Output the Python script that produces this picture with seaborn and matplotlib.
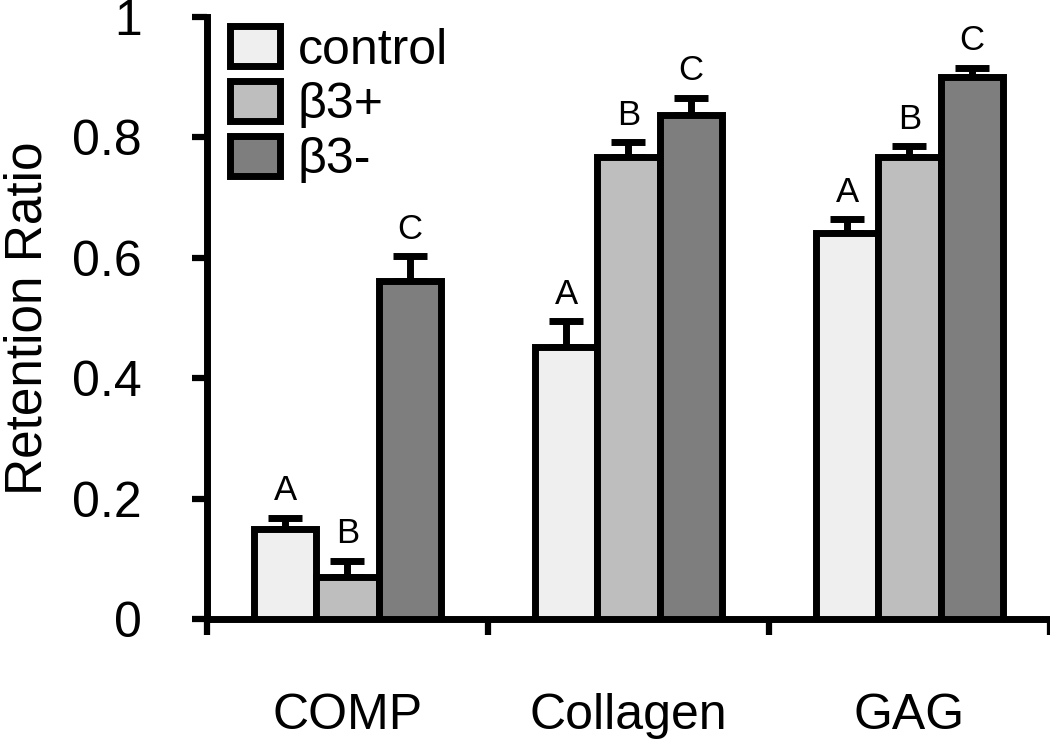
import numpy as np
import pandas as pd
import matplotlib
matplotlib.use("Agg")
import matplotlib.pyplot as plt
import seaborn as sns

# ---- data ----
components = ["COMP", "Collagen", "GAG"]
groups = ["control", "β3+", "β3-"]
control_vals = [0.150, 0.451, 0.642]
b3plus_vals = [0.069, 0.767, 0.768]
b3minus_vals = [0.562, 0.837, 0.900]
control_err = [0.018, 0.044, 0.022]
b3plus_err = [0.028, 0.025, 0.018]
b3minus_err = [0.041, 0.029, 0.016]
control_letters = ["A", "A", "A"]
b3plus_letters = ["B", "B", "B"]
b3minus_letters = ["C", "C", "C"]
ytick_vals = [0, 0.2, 0.4, 0.6, 0.8, 1]
ytick_labels = ["0", "0.2", "0.4", "0.6", "0.8", "1"]
colors = ["#efefef", "#bebebe", "#7e7e7e"]

vals = [control_vals, b3plus_vals, b3minus_vals]
errs = [control_err, b3plus_err, b3minus_err]
letters = [control_letters, b3plus_letters, b3minus_letters]

df = pd.DataFrame({
    "component": components * 3,
    "group": [g for g in groups for _ in components],
    "ratio": control_vals + b3plus_vals + b3minus_vals,
})

sns.set_style("white")
plt.rcParams["font.family"] = ["Liberation Sans", "DejaVu Sans"]
plt.rcParams["text.color"] = "black"
plt.rcParams["axes.labelcolor"] = "black"
plt.rcParams["xtick.color"] = "black"
plt.rcParams["ytick.color"] = "black"

fig = plt.figure(figsize=(10.5, 7.43), dpi=100)
ax = fig.add_axes([0.197, 0.167, 0.803, 0.810])

LW = 5
sns.barplot(data=df, x="component", y="ratio", hue="group",
            order=components, hue_order=groups,
            palette=dict(zip(groups, colors)), saturation=1,
            width=0.665, edgecolor="black", linewidth=LW,
            errorbar=None, ax=ax, zorder=3)

bar_containers = list(ax.containers)
for i, cont in enumerate(bar_containers):
    xs = [b.get_x() + b.get_width() / 2 for b in cont]
    ys = [b.get_height() for b in cont]
    e = errs[i]
    ax.errorbar(xs, ys, yerr=[np.zeros(len(e)), e], fmt="none",
                ecolor="black", elinewidth=5, capsize=12, capthick=5, zorder=2)
    for x, y, ee, lab in zip(xs, ys, e, letters[i]):
        ax.annotate(lab, (x, y + ee), xytext=(0, 12.5), textcoords="offset points",
                    ha="center", va="baseline", fontsize=25, color="black")

ax.set_xlim(-0.5, 2.5)
ax.set_ylim(0, 1)
ax.set_yticks(ytick_vals)
ax.set_yticklabels(ytick_labels)
ax.set_xticks(range(len(components)))
ax.set_xticklabels(components)
ax.set_xticks([-0.5, 0.5, 1.5, 2.5], minor=True)
ax.tick_params(axis="x", which="major", length=0, pad=53, labelsize=36)
ax.tick_params(axis="x", which="minor", length=11.5, width=4.5, direction="out", color="black",
               bottom=True)
ax.tick_params(axis="y", which="major", length=11, width=4.5, direction="out", color="black",
               pad=36, labelsize=36, left=True)
ax.set_xlabel("")
ax.set_ylabel("Retention Ratio", fontsize=37, labelpad=14)

for s in ["top", "right"]:
    ax.spines[s].set_visible(False)
for s in ["left", "bottom"]:
    ax.spines[s].set_linewidth(5)
    ax.spines[s].set_color("black")
ax.spines["left"].set_bounds(0, 1)

handles, labels = ax.get_legend_handles_labels()
leg = ax.legend(handles, labels, loc="upper left", bbox_to_anchor=(0.027, 0.985),
                frameon=False, fontsize=36, handlelength=1.0, handleheight=0.86,
                labelspacing=0.15, handletextpad=0.36, borderpad=0, borderaxespad=0)
for p in leg.get_patches():
    p.set_edgecolor("black")
    p.set_linewidth(LW)

fig.savefig("out.png", dpi=100)
